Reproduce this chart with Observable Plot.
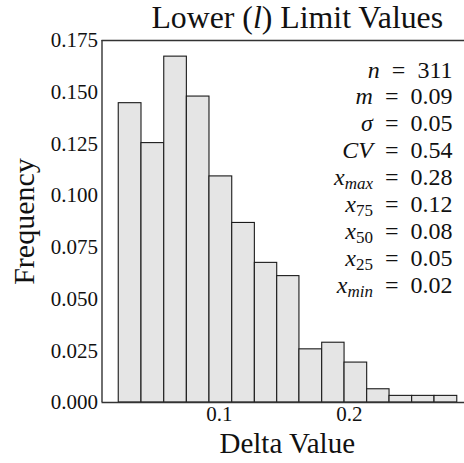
<!DOCTYPE html>
<html><head><meta charset="utf-8">
<script src="https://cdn.jsdelivr.net/npm/d3@7"></script>
<script src="https://cdn.jsdelivr.net/npm/@observablehq/plot@0.6"></script>
<style>html,body{margin:0;padding:0;background:#fff} svg{display:block}</style>
</head><body><div id="chart"></div>
<script>
// ---- data ----
const binEdges = [0.0225,0.0400,0.0575,0.0749,0.0923,0.1098,0.1272,0.1444,0.1615,0.1790,0.1962,0.2136,0.2308,0.2482,0.2654,0.2829];
const frequencies = [0.1447,0.1254,0.1672,0.1479,0.1093,0.0868,0.0675,0.0611,0.0257,0.0289,0.0193,0.0064,0.0032,0.0032,0.0032];
const yTicks = [0,0.025,0.05,0.075,0.1,0.125,0.15,0.175];
const xTicks = [0.1,0.2];
const statNames = ["n","m","σ","CV","x","x","x","x","x"];
const statSubs = ["","","","","max","75","50","25","min"];
const statValues = ["311","0.09","0.05","0.54","0.28","0.12","0.08","0.05","0.02"];
const titleText = "Lower (l) Limit Values";
const xLabel = "Delta Value";
const yLabel = "Frequency";
const xDomain = [0.00962, 0.28846];
const yDomain = [0, 0.175];

const bars = frequencies.map((f, i) => ({x1: binEdges[i], x2: binEdges[i + 1], y: f}));
const statLines = statNames.map((n, i) => n + statSubs[i] + "=" + statValues[i]);
const statsString = statLines.join("\n");

const serif = "'Liberation Serif', 'Times New Roman', serif";
const spine = {stroke: "#333", strokeWidth: 1.4};

const svg = Plot.plot({
  width: 464, height: 463,
  marginLeft: 101.5, marginRight: 0, marginTop: 40, marginBottom: 61,
  style: {fontFamily: serif, fontSize: "21px", color: "#111", background: "#fff", overflow: "visible"},
  x: {domain: xDomain, label: null},
  y: {domain: yDomain, label: null},
  marks: [
    Plot.rectY(bars, {x1: "x1", x2: "x2", y: "y", fill: "#e5e5e5", stroke: "#1a1a1a", strokeWidth: 1.1, inset: 0}),
    Plot.axisX({ticks: xTicks, tickSize: 0, tickPadding: 4, tickFormat: d => String(d), label: null, fontSize: 21}),
    Plot.axisY({ticks: yTicks, tickSize: 0, tickPadding: 4, tickFormat: d3.format(".3f"), label: null, fontSize: 21}),
    Plot.ruleX([xDomain[0]], spine),
    Plot.ruleY([yDomain[0], yDomain[1]], spine),
    Plot.text([titleText], {frameAnchor: "top", dx: 14, dy: -13, lineAnchor: "bottom", fontSize: 31.8, fontFamily: serif}),
    Plot.text([xLabel], {frameAnchor: "bottom", dx: 4, dy: 50, lineAnchor: "bottom", fontSize: 29, fontFamily: serif}),
    Plot.text([yLabel], {frameAnchor: "left", rotate: -90, dx: -68.5, lineAnchor: "bottom", textAnchor: "middle", fontSize: 30, fontFamily: serif}),
    Plot.text([statsString], {frameAnchor: "top-right", textAnchor: "end", lineAnchor: "top", lineHeight: 1.12, fontSize: 24, fontFamily: serif, dx: -12, dy: 18})
  ]
});

const NS = "http://www.w3.org/2000/svg";
function ts(txt, attrs) {
  const t = document.createElementNS(NS, "tspan");
  t.textContent = txt;
  for (const k in attrs) t.setAttribute(k, attrs[k]);
  return t;
}
svg.querySelectorAll("text").forEach(t => {
  const spans = Array.from(t.querySelectorAll("tspan"));
  if (spans.length === statLines.length && spans[0].textContent === statLines[0]) {
    // stats lines: italic variable, subscript, upright value
    spans.forEach((line, i) => {
      line.textContent = "";
      line.appendChild(ts(statNames[i], {"font-style": "italic"}));
      if (statSubs[i]) {
        const italicSub = /[a-z]/.test(statSubs[i]);
        line.appendChild(ts(statSubs[i], {"font-size": "17px", dy: 4, "font-style": italicSub ? "italic" : "normal"}));
        line.appendChild(ts("\u2002=\u2002" + statValues[i], {dy: -4}));
      } else {
        line.appendChild(ts("\u2002=\u2002" + statValues[i], {}));
      }
    });
  } else if (t.textContent === titleText) {
    const s = titleText, a = s.indexOf("(") + 1, b = s.indexOf(")");
    t.textContent = "";
    t.appendChild(ts(s.slice(0, a), {}));
    t.appendChild(ts(s.slice(a, b), {"font-style": "italic"}));
    t.appendChild(ts(s.slice(b), {}));
  }
});
document.getElementById("chart").appendChild(svg);
</script>
</body></html>
